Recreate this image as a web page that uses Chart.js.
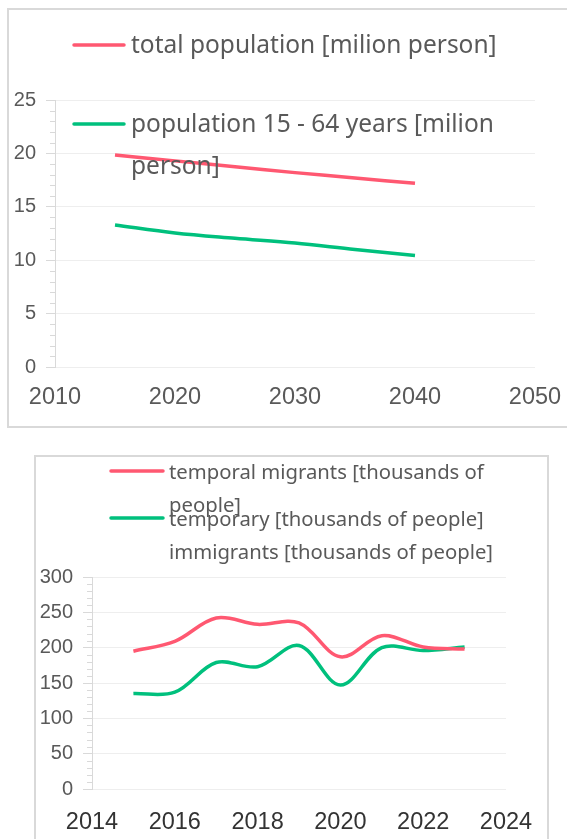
<!DOCTYPE html>
<html>
<head>
<meta charset="utf-8">
<title>Population and migration</title>
<script src="https://cdn.jsdelivr.net/npm/chart.js@4.4.1/dist/chart.umd.min.js"></script>
<style>
  html, body { margin: 0; padding: 0; background: #fff; }
  body { width: 567px; height: 839px; position: relative; overflow: hidden; }
  .frame { position: absolute; border: 2px solid #d9d9d9; box-sizing: border-box; }
  #frame-pop { left: 7px; top: 8px; width: 620px; height: 420px; }
  #frame-mig { left: 34px; top: 455px; width: 515px; height: 420px; }
  .holder { position: absolute; left: 0; width: 567px; }
  #holder-pop { top: 0; height: 430px; }
  #holder-mig { top: 440px; height: 399px; }
</style>
</head>
<body>
<div class="frame" id="frame-pop"></div>
<div class="frame" id="frame-mig"></div>
<div class="holder" id="holder-pop"><canvas id="chart-pop"></canvas></div>
<div class="holder" id="holder-mig"><canvas id="chart-mig"></canvas></div>
<script>
// ---------------------------------------------
// DATA
// population projection, million persons
const popYears = [2015, 2020, 2025, 2030, 2035, 2040];
const totalPopulation = [19.85, 19.3, 18.75, 18.2, 17.7, 17.2];
const workingAgePopulation = [13.3, 12.55, 12.05, 11.6, 11.0, 10.45];
const popXTicks = [2010, 2020, 2030, 2040, 2050];
const popYTicks = [0, 5, 10, 15, 20, 25];
const popLabels = [
  ["total population [milion person]"],
  ["population 15 - 64 years [milion", "person]"],
];

// migration, thousands of people
const migYears = [2015, 2016, 2017, 2018, 2019, 2020, 2021, 2022, 2023];
const temporalMigrants = [195, 209, 242, 233, 235, 187, 217, 201, 198];
const temporaryImmigrants = [135, 137, 179, 173, 203, 147, 200, 196, 201];
const migXTicks = [2014, 2016, 2018, 2020, 2022, 2024];
const migYTicks = [0, 50, 100, 150, 200, 250, 300];
const migLabels = [
  ["temporal migrants [thousands of", "people]"],
  ["temporary [thousands of people]", "immigrants [thousands of people]"],
];

const RED = "#ff5871";
const GREEN = "#00c07d";
const TEXT = "#595959";

// ---------------------------------------------
// PLUGINS
// short unlabeled ticks between the major y ticks
const minorTicks = {
  id: "minorTicks",
  afterDraw(chart, args, o) {
    const s = chart.scales.y;
    const ctx = chart.ctx;
    const n = Math.round((s.max - s.min) / o.step);
    ctx.save();
    ctx.strokeStyle = o.color;
    ctx.lineWidth = 1;
    for (let i = 1; i < n; i++) {
      if (i % o.perMajor === 0) continue;
      const y = Math.round(s.getPixelForValue(s.min + i * o.step)) + 0.5;
      ctx.beginPath();
      ctx.moveTo(s.right - o.length, y);
      ctx.lineTo(s.right, y);
      ctx.stroke();
    }
    ctx.restore();
  },
};

// legend: colored line sample + wrapped label lines
const lineLegend = {
  id: "lineLegend",
  afterDraw(chart, args, o) {
    const ctx = chart.ctx;
    ctx.save();
    ctx.font = o.size + 'px "Noto Sans", sans-serif';
    ctx.fillStyle = TEXT;
    ctx.textBaseline = "alphabetic";
    ctx.textAlign = "left";
    chart.data.datasets.forEach((ds, i) => {
      const y = o.rows[i];
      ctx.strokeStyle = ds.borderColor;
      ctx.lineWidth = o.lineWidth;
      ctx.lineCap = "round";
      ctx.beginPath();
      ctx.moveTo(o.x0, y);
      ctx.lineTo(o.x1, y);
      ctx.stroke();
      ds.label.forEach((line, k) => {
        ctx.fillText(line, o.textX, y + o.baseline + k * o.lineHeight);
      });
    });
    ctx.restore();
  },
};

// ---------------------------------------------
// CHART FACTORY
function makeChart(id, s) {
  const tickFont = (size) => ({ family: '"Liberation Sans", Arial, sans-serif', size });
  return new Chart(document.getElementById(id), {
    type: "line",
    data: {
      datasets: s.series.map((values, i) => ({
        label: s.labels[i],
        data: values.map((v, k) => ({ x: s.years[k], y: v })),
        borderColor: s.colors[i],
        borderWidth: 3.5,
        pointRadius: 0,
        tension: 0.35,
        fill: false,
      })),
    },
    options: {
      responsive: true,
      maintainAspectRatio: false,
      animation: false,
      layout: { padding: s.padding },
      plugins: {
        legend: { display: false },
        tooltip: { enabled: false },
        minorTicks: { step: s.minorStep, perMajor: s.perMajor, length: 5, color: "#d9d9d9" },
        lineLegend: s.legend,
      },
      scales: {
        x: {
          type: "linear",
          min: s.xTicks[0],
          max: s.xTicks[s.xTicks.length - 1],
          // labels may overhang the plot edges, keep the plot width fixed
          afterFit: (sc) => { sc.height = s.xHeight; sc.paddingLeft = 0; sc.paddingRight = 0; },
          grid: { display: false, drawTicks: false },
          border: { display: false },
          ticks: {
            stepSize: s.xTicks[1] - s.xTicks[0],
            padding: s.xPad,
            color: s.xColor,
            font: tickFont(23.5),
            maxRotation: 0,
            autoSkip: false,
            callback: (v) => String(v),
          },
        },
        y: {
          min: s.yTicks[0],
          max: s.yTicks[s.yTicks.length - 1],
          afterFit: (sc) => { sc.width = s.yWidth; sc.paddingTop = 0; sc.paddingBottom = 0; },
          grid: { color: "#eeeeee", tickColor: "#d9d9d9", tickLength: 9 },
          border: { color: "#d9d9d9" },
          ticks: {
            stepSize: s.yTicks[1] - s.yTicks[0],
            padding: 10,
            color: TEXT,
            font: tickFont(20),
            callback: (v) => String(v),
          },
        },
      },
    },
    plugins: [minorTicks, lineLegend],
  });
}

makeChart("chart-pop", {
  years: popYears,
  series: [totalPopulation, workingAgePopulation],
  labels: popLabels,
  colors: [RED, GREEN],
  xTicks: popXTicks,
  yTicks: popYTicks,
  minorStep: 1,
  perMajor: 5,
  padding: { left: 0, right: 32, top: 100, bottom: 0 },
  yWidth: 55,
  xHeight: 63,
  xPad: 16,
  xColor: TEXT,
  legend: { x0: 74, x1: 124, textX: 131, rows: [45, 124], size: 24.5, lineHeight: 42, baseline: 8, lineWidth: 3.5 },
});

makeChart("chart-mig", {
  years: migYears,
  series: [temporalMigrants, temporaryImmigrants],
  labels: migLabels,
  colors: [RED, GREEN],
  xTicks: migXTicks,
  yTicks: migYTicks,
  minorStep: 10,
  perMajor: 5,
  padding: { left: 0, right: 61, top: 137, bottom: 0 },
  yWidth: 92,
  xHeight: 50,
  xPad: 19,
  xColor: "#333333",
  legend: { x0: 111, x1: 163, textX: 169, rows: [31, 78], size: 20.3, lineHeight: 33, baseline: 8, lineWidth: 3.5 },
});
</script>
</body>
</html>
